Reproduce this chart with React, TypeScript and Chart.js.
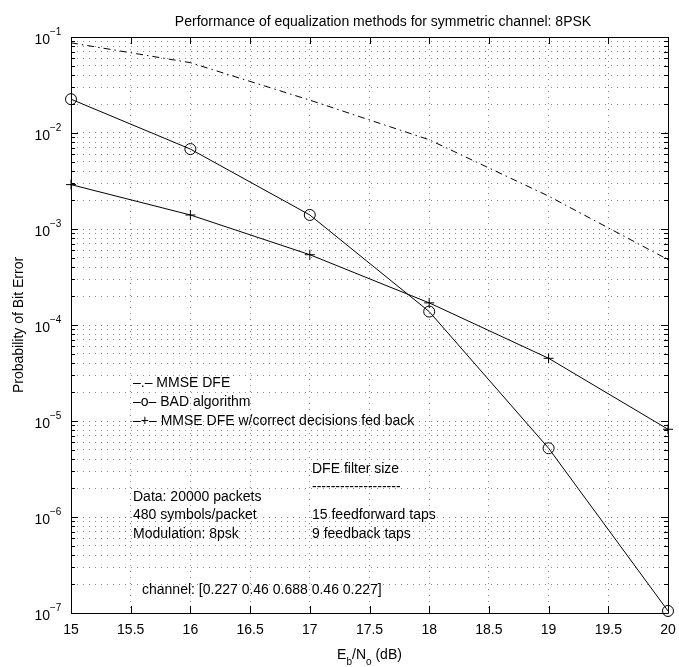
import React, { useEffect, useRef } from 'react';
import { Chart, registerables } from 'chart.js';

Chart.register(...registerables);

// ---- data ----
const ebNo = [15, 16, 17, 18, 19, 20];
const mmseDfe = [0.087, 0.054, 0.022, 0.0085, 0.0022, 0.00048];
const badAlgorithm = [0.0225, 0.0068, 0.0014, 0.000138, 0.0000052, 0.000000105];
const mmseDfeCorrect = [0.0029, 0.0014, 0.00054, 0.00017, 0.000045, 0.0000082];

const xTicks = [15, 15.5, 16, 16.5, 17, 17.5, 18, 18.5, 19, 19.5, 20];
const xTickLabels = ['15', '15.5', '16', '16.5', '17', '17.5', '18', '18.5', '19', '19.5', '20'];
const yExponents = [-1, -2, -3, -4, -5, -6, -7];

const titleText = 'Performance of equalization methods for symmetric channel: 8PSK';
const yLabelText = 'Probability of Bit Error';
const legendTexts = ['\u2013.\u2013 MMSE DFE', '\u2013o\u2013 BAD algorithm', '\u2013+\u2013 MMSE DFE w/correct decisions fed back'];
const infoLeft = ['Data: 20000 packets', '480 symbols/packet', 'Modulation: 8psk'];
const infoRight = ['DFE filter size', '-------------------', '15 feedforward taps', '9 feedback taps'];
const channelText = 'channel: [0.227 0.46 0.688 0.46 0.227]';

const FONT = '"Liberation Sans", Arial, Helvetica, sans-serif';

function buildYTicks(): number[] {
  const t: number[] = [];
  for (let e = -7; e <= -1; e++) {
    for (let m = 1; m <= 9; m++) {
      const v = m * Math.pow(10, e);
      if (v <= 0.1 + 1e-12) t.push(Number(v.toPrecision(3)));
    }
  }
  return t;
}

const decoPlugin = {
  id: 'deco',
  afterDraw(chart: any) {
    const { ctx, chartArea: a, scales } = chart;
    const xs = scales.x;
    const ys = scales.y;
    ctx.save();
    ctx.strokeStyle = '#000';
    ctx.lineWidth = 1;
    // frame
    ctx.beginPath();
    ctx.rect(Math.round(a.left) + 0.5, Math.round(a.top) + 0.5, Math.round(a.right - a.left), Math.round(a.bottom - a.top));
    ctx.stroke();
    // x ticks (inside, top and bottom)
    ctx.beginPath();
    xTicks.forEach((v) => {
      const px = Math.round(xs.getPixelForValue(v)) + 0.5;
      ctx.moveTo(px, a.bottom);
      ctx.lineTo(px, a.bottom - 7);
      ctx.moveTo(px, a.top);
      ctx.lineTo(px, a.top + 7);
    });
    // y ticks
    for (let e = -7; e <= -1; e++) {
      for (let m = 1; m <= 9; m++) {
        const v = m * Math.pow(10, e);
        if (v > 0.1 + 1e-12) continue;
        const py = Math.round(ys.getPixelForValue(v)) + 0.5;
        const len = m === 1 ? 7 : 4;
        ctx.moveTo(a.left, py);
        ctx.lineTo(a.left + len, py);
        ctx.moveTo(a.right, py);
        ctx.lineTo(a.right - len, py);
      }
    }
    ctx.stroke();

    ctx.fillStyle = '#000';
    // x tick labels
    ctx.font = '14px ' + FONT;
    ctx.textAlign = 'center';
    ctx.textBaseline = 'middle';
    xTicks.forEach((v, i) => {
      ctx.fillText(xTickLabels[i], xs.getPixelForValue(v), a.bottom + 17);
    });
    // y tick labels with superscripts
    yExponents.forEach((e) => {
      const py = ys.getPixelForValue(Math.pow(10, e));
      ctx.font = '14px ' + FONT;
      ctx.textAlign = 'right';
      ctx.textBaseline = 'middle';
      ctx.fillText('10', a.left - 21, py + 3);
      ctx.font = '10px ' + FONT;
      ctx.textAlign = 'left';
      ctx.fillText('\u2212' + String(-e), a.left - 21, py - 5);
    });
    // title
    ctx.font = '14px ' + FONT;
    ctx.textAlign = 'center';
    ctx.textBaseline = 'middle';
    ctx.fillText(titleText, 383, 22);
    // y label
    ctx.save();
    ctx.translate(19, (a.top + a.bottom) / 2);
    ctx.rotate(-Math.PI / 2);
    ctx.fillText(yLabelText, 0, 0);
    ctx.restore();
    // x label with subscripts: E_b/N_o (dB)
    {
      const parts: [string, boolean][] = [['E', false], ['b', true], ['/N', false], ['o', true], [' (dB)', false]];
      const big = '14px ' + FONT;
      const small = '10px ' + FONT;
      let total = 0;
      parts.forEach(([s, sub]) => {
        ctx.font = sub ? small : big;
        total += ctx.measureText(s).width;
      });
      let x = (a.left + a.right) / 2 - total / 2;
      const y = 655;
      ctx.textAlign = 'left';
      parts.forEach(([s, sub]) => {
        ctx.font = sub ? small : big;
        ctx.fillText(s, x, sub ? y + 7 : y);
        x += ctx.measureText(s).width;
      });
    }
    // annotations
    ctx.font = '14px ' + FONT;
    ctx.textAlign = 'left';
    ctx.textBaseline = 'middle';
    const legY = [383, 402, 421];
    legendTexts.forEach((t, i) => ctx.fillText(t, 133, legY[i]));
    const infoY = [497, 515, 534];
    infoLeft.forEach((t, i) => ctx.fillText(t, 133, infoY[i]));
    const infoRY = [469, 487, 515, 534];
    infoRight.forEach((t, i) => ctx.fillText(t, 312, infoRY[i]));
    ctx.fillText(channelText, 142, 590);
    ctx.restore();
  },
};

export default function App() {
  const ref = useRef<HTMLCanvasElement | null>(null);
  useEffect(() => {
    const canvas = ref.current;
    if (!canvas) return;
    const pts = (ys: number[]) => ebNo.map((x, i) => ({ x, y: ys[i] }));
    const yTickValues = buildYTicks();
    const chart = new Chart(canvas, {
      type: 'line',
      data: {
        datasets: [
          {
            label: 'MMSE DFE',
            data: pts(mmseDfe),
            borderColor: '#000',
            borderWidth: 1,
            borderDash: [7, 4, 1.5, 4],
            pointRadius: 0,
            fill: false,
            tension: 0,
            clip: false,
          },
          {
            label: 'BAD algorithm',
            data: pts(badAlgorithm),
            borderColor: '#000',
            borderWidth: 1,
            pointStyle: 'circle',
            pointRadius: 5.5,
            pointBorderColor: '#000',
            pointBackgroundColor: 'rgba(0,0,0,0)',
            pointBorderWidth: 1,
            fill: false,
            tension: 0,
            clip: false,
          },
          {
            label: 'MMSE DFE w/correct decisions fed back',
            data: pts(mmseDfeCorrect),
            borderColor: '#000',
            borderWidth: 1,
            pointStyle: 'cross',
            pointRadius: 5,
            pointBorderColor: '#000',
            pointBorderWidth: 1,
            fill: false,
            tension: 0,
            clip: false,
          },
        ],
      },
      options: {
        responsive: false,
        animation: false,
        events: [],
        layout: { padding: { top: 37, right: 11, left: 0, bottom: 0 } },
        plugins: {
          legend: { display: false },
          title: { display: false },
          tooltip: { enabled: false },
        },
        scales: {
          x: {
            type: 'linear',
            min: 15,
            max: 20,
            afterBuildTicks: (s: any) => {
              s.ticks = xTicks.map((v) => ({ value: v }));
            },
            afterFit: (s: any) => {
              s.height = 54;
            },
            ticks: { display: false },
            grid: { color: '#8c8c8c', lineWidth: 1, drawTicks: false },
            border: { display: false, dash: [1, 5] },
          },
          y: {
            type: 'logarithmic',
            min: 1e-7,
            max: 1e-1,
            afterBuildTicks: (s: any) => {
              s.ticks = yTickValues.map((v) => ({ value: v }));
            },
            afterFit: (s: any) => {
              s.width = 71;
            },
            ticks: { display: false },
            grid: { color: '#8c8c8c', lineWidth: 1, drawTicks: false },
            border: { display: false, dash: [1, 5] },
          },
        },
      },
      plugins: [decoPlugin],
    } as any);
    return () => chart.destroy();
  }, []);
  return (
    <div style={{ position: 'absolute', left: 0, top: 0, width: 679, height: 667, background: '#fff' }}>
      <canvas ref={ref} width={679} height={667} style={{ display: 'block' }} />
    </div>
  );
}
